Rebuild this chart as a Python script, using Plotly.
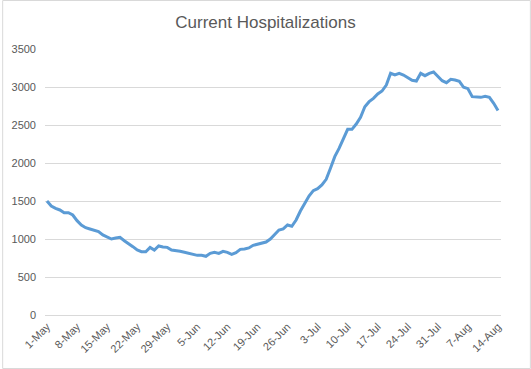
import pandas as pd
import plotly.graph_objects as go

start_date = "2020-05-01"
hospitalizations = [
    1500, 1434, 1403, 1382, 1346, 1346, 1316, 1241, 1184, 1149,
    1132, 1118, 1097, 1053, 1022, 1000, 1013, 1022, 978, 943,
    899, 855, 833, 833, 890, 855, 908, 895, 890, 855,
    851, 838, 825, 811, 798, 785, 785, 772, 811, 825,
    811, 838, 825, 798, 820, 864, 868, 882, 917, 930,
    947, 960, 1000, 1053, 1118, 1132, 1184, 1167, 1250, 1368,
    1469, 1566, 1636, 1662, 1711, 1785, 1930, 2083, 2193, 2311,
    2443, 2443, 2513, 2601, 2741, 2807, 2851, 2908, 2947, 3026,
    3180, 3158, 3180, 3158, 3127, 3088, 3079, 3180, 3149, 3180,
    3197, 3145, 3083, 3057, 3101, 3092, 3075, 2996, 2978, 2873,
    2864, 2864, 2877, 2864, 2785, 2690,
]
dates = pd.date_range(start_date, periods=len(hospitalizations), freq="D")
tick_dates = dates[::7]
tick_labels = [f"{d.day}-{d.strftime('%b')}" for d in tick_dates]
y_ticks = [0, 500, 1000, 1500, 2000, 2500, 3000, 3500]

W, H = 531, 369
ml, mr, mt, mb = 43, 30, 49, 54
pw, ph = W - ml - mr, H - mt - mb

fig = go.Figure()
fig.add_trace(go.Scatter(
    x=dates, y=hospitalizations, mode="lines",
    line=dict(color="#5B9BD5", width=3), hoverinfo="skip",
))

day = pd.Timedelta(days=1)
fig.update_layout(
    width=W, height=H,
    margin=dict(l=ml, r=mr, t=mt, b=mb),
    paper_bgcolor="white", plot_bgcolor="white",
    showlegend=False,
    font=dict(family="Liberation Sans, Arial, sans-serif", color="#595959", size=11),
    title=dict(text="Current Hospitalizations", x=0.5, xanchor="center",
               y=1 - 22 / H, yanchor="middle",
               font=dict(size=17, color="#595959")),
    xaxis=dict(
        range=[dates[0] - 0.46 * day, dates[-1] + 0.7 * day],
        tickvals=list(tick_dates), ticktext=tick_labels,
        tickangle=-45, showgrid=False, zeroline=False,
        showline=True, linecolor="#D9D9D9", linewidth=1,
        ticks="", tickfont=dict(size=11, color="#595959"),
    ),
    yaxis=dict(
        range=[0, 3500], tickvals=y_ticks,
        showgrid=True, gridcolor="#D9D9D9", gridwidth=1,
        zeroline=False, showline=False, ticks="",
        ticklabelstandoff=8,
        tickfont=dict(size=11, color="#595959"),
    ),
    shapes=[dict(
        type="rect", xref="paper", yref="paper",
        x0=(0.5 - ml) / pw, x1=(W - 0.5 - ml) / pw,
        y0=-(mb - 0.5) / ph, y1=1 + (mt - 0.5) / ph,
        line=dict(color="#D9D9D9", width=1), fillcolor="rgba(0,0,0,0)",
        layer="below",
    )],
)

fig.write_html(
    "out.html",
    config={"displayModeBar": False, "staticPlot": True},
    post_script="document.body.style.margin='0';document.body.style.overflow='hidden';",
)
